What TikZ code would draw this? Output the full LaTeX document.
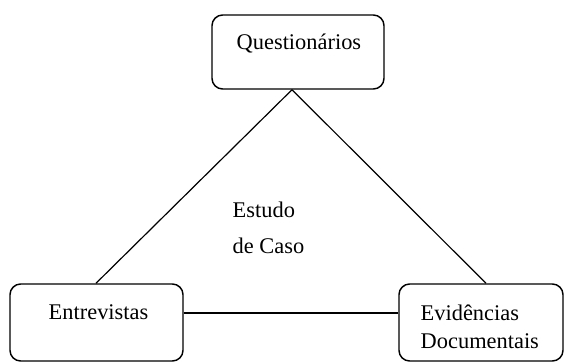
\documentclass[tikz,border=0pt]{standalone}
\usepackage{fontspec}
\setmainfont{Liberation Serif}
\usepackage{tikz}
\def\boxlw{1.1pt}

\begin{document}
\begin{tikzpicture}[x=0.75pt,y=-0.75pt,line width=\boxlw,font=\fontsize{16.8}{21}\selectfont]
    \tikzstyle{method}=[draw=black,rounded corners=8pt,inner sep=0pt]
    \tikzstyle{caption}=[inner sep=0pt,anchor=base west]
    \tikzstyle{link}=[draw=black,line width=0.9pt]

    \useasboundingbox (0,0) rectangle (564,362);

    % Draw the three method boxes
    \node[method,minimum width=129pt,minimum height=55.5pt] (Q) at (298,52) {};
    \node[method,minimum width=129.75pt,minimum height=57.75pt] (E) at (96.5,322.5) {};
    \node[method,minimum width=123pt,minimum height=57.75pt] (D) at (481,322.5) {};

    % Texts of the boxes (base of a two-line node is its last line)
    \node[caption] (Q-txt) at (236,49) {Questionários};
    \node[caption] (E-txt) at (48,319) {Entrevistas};
    \node[caption,align=left] (D-txt) at (420,348) {Evidências\\Documentais};
    \node[caption,align=left,font=\fontsize{16.8}{26.3}\selectfont] (C-txt) at (232,253) {Estudo\\de Caso};

    % Points where the lines meet the boxes
    \coordinate (apex) at (Q.south -| 292,0);
    \coordinate (E-top) at (E.north -| 96,0);
    \coordinate (D-top) at (D.north -| 486,0);
    \coordinate (E-side) at (E.east |- 0,313);
    \coordinate (D-side) at (D.west |- 0,313);

    % Connect the boxes
    \path[link] (apex) edge (E-top);
    \path[link] (apex) edge (D-top);
    \path[link] (E-side) edge (D-side);

\end{tikzpicture}
\end{document}
